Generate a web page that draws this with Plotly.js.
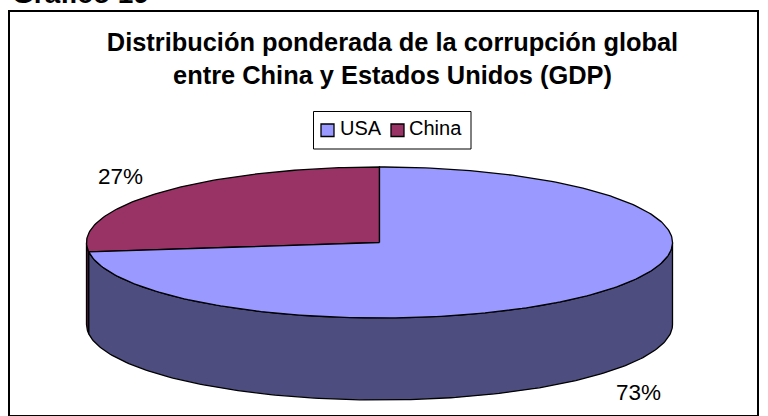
<!DOCTYPE html>
<html>
<head>
<meta charset="utf-8">
<script src="https://cdn.plot.ly/plotly-3.0.1.min.js"></script>
<style>html,body{margin:0;padding:0;background:#fff;overflow:hidden}</style>
</head>
<body>
<div id="chart" style="width:768px;height:416px"></div>
<script>
const categories = ['USA', 'China'];
const values = [73, 27];
const topColors = ['#9999FF', '#993366'];
const sideColors = ['#4D4D7F', '#4C1933'];
const chartTitle = 'Distribución ponderada de la corrupción global<br>entre China y Estados Unidos (GDP)';
const pageHeading = 'Gráfico 19';

const cx = 379.5, cy = 242.5, rx = 293, ry = 75.5, depth = 82;
const total = values.reduce((a, b) => a + b, 0);
const rad = d => d * Math.PI / 180;
const px = d => cx + rx * Math.sin(rad(d));
const py = d => cy - ry * Math.cos(rad(d));

function arc(a, b) {
  const n = Math.max(2, Math.ceil(Math.abs(b - a)));
  const out = [];
  for (let i = 0; i <= n; i++) out.push(a + (b - a) * i / n);
  return out;
}
function topFace(a, b) {
  const t = arc(a, b);
  return { x: [cx, ...t.map(px), cx], y: [cy, ...t.map(py), cy] };
}
function sideWall(a, b) {
  const t = arc(a, b), r = t.slice().reverse();
  const xs = [...t.map(px), ...r.map(px)];
  const ys = [...t.map(py), ...r.map(d => py(d) + depth)];
  xs.push(xs[0]); ys.push(ys[0]);
  return { x: xs, y: ys };
}
const poly = (g, color, name) => ({
  type: 'scatter', mode: 'lines', name: name, x: g.x, y: g.y, fill: 'toself', fillcolor: color,
  line: { color: '#000', width: 1.3 }, showlegend: false, hoverinfo: 'skip'
});

const usaEnd = values[0] / total * 360;
const traces = [
  poly(sideWall(usaEnd, 270), sideColors[1], categories[1]),
  poly(sideWall(90, usaEnd), sideColors[0], categories[0]),
  poly(topFace(usaEnd, 360), topColors[1], categories[1]),
  poly(topFace(0, usaEnd), topColors[0], categories[0])
];

const legendSwatchX = [321, 391];
const legendTextX = [337.5, 406.5];
const legendShapes = [{ type: 'rect', xref: 'x', yref: 'y', x0: 313.5, x1: 471, y0: 111.5, y1: 149,
  line: { color: '#000', width: 1 }, fillcolor: '#fff' }];
categories.forEach((c, i) => legendShapes.push({
  type: 'rect', xref: 'x', yref: 'y', x0: legendSwatchX[i], x1: legendSwatchX[i] + 13, y0: 124, y1: 136.5,
  line: { color: '#000', width: 1.3 }, fillcolor: topColors[i]
}));
const legendLabels = categories.map((c, i) => ({
  text: c, xref: 'x', yref: 'y', x: legendTextX[i], y: 128, xanchor: 'left', yanchor: 'middle',
  showarrow: false, font: { size: 20 }
}));

const layout = {
  width: 768, height: 416,
  margin: { l: 0, r: 0, t: 0, b: 0 },
  paper_bgcolor: '#fff', plot_bgcolor: '#fff',
  font: { family: 'Liberation Sans, Arial, sans-serif', color: '#000' },
  title: { text: chartTitle, x: 392.5 / 768, xanchor: 'center', y: 1 - 51 / 416, yanchor: 'middle',
           yref: 'container', font: { size: 25.4, family: 'Liberation Sans, Arial, sans-serif', weight: 700 } },
  xaxis: { range: [0, 768], visible: false, fixedrange: true },
  yaxis: { range: [416, 0], visible: false, fixedrange: true },
  showlegend: false,
  shapes: [{ type: 'rect', xref: 'x', yref: 'y', x0: 9, x1: 758, y0: 11, y1: 416,
             line: { color: '#000', width: 2 }, layer: 'below' }, ...legendShapes],
  annotations: [
    { text: '<b>' + pageHeading + '</b>', xref: 'x', yref: 'y', x: 10, y: 11, xanchor: 'left', yanchor: 'bottom',
      showarrow: false, font: { size: 28 } },
    { text: values[1] + '%', xref: 'x', yref: 'y', x: 120.5, y: 176, showarrow: false, font: { size: 22.5 } },
    { text: values[0] + '%', xref: 'x', yref: 'y', x: 638, y: 392, showarrow: false, font: { size: 22.5 } },
    ...legendLabels
  ]
};
Plotly.newPlot('chart', traces, layout, { displayModeBar: false, staticPlot: true });
</script>
</body>
</html>
